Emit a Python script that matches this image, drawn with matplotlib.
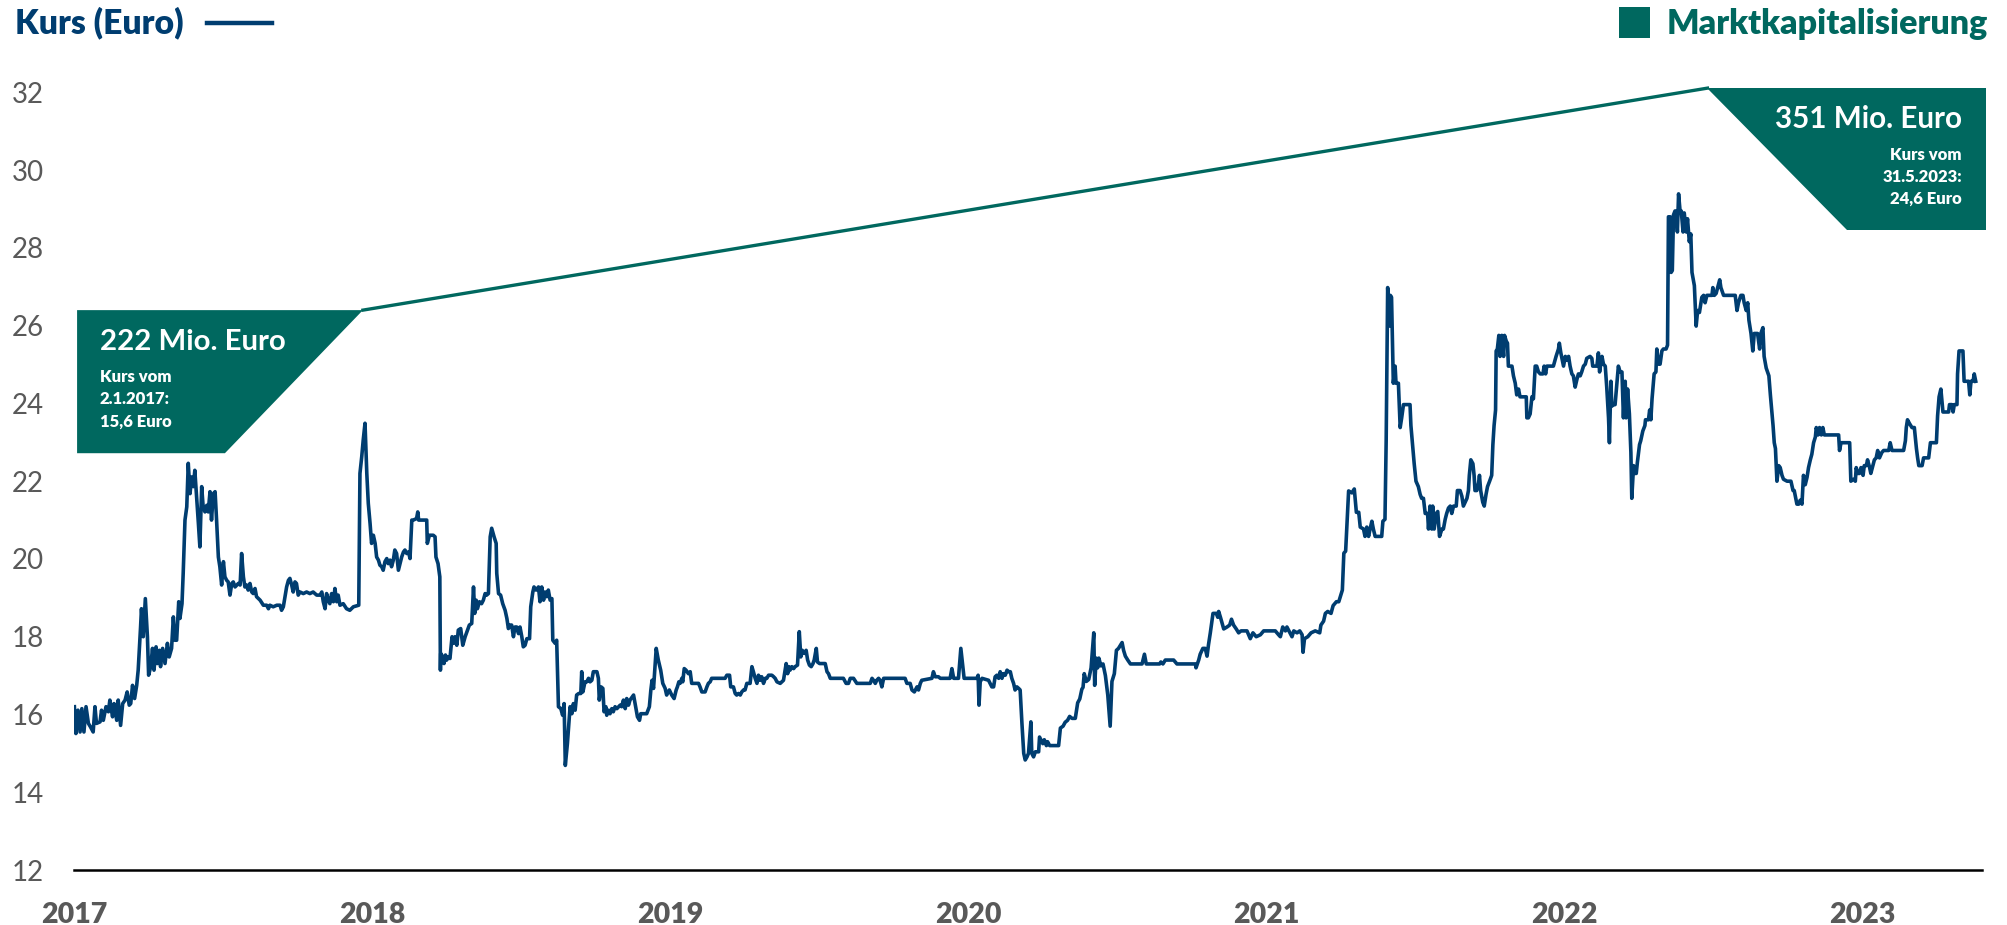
import matplotlib
matplotlib.use("Agg")
import matplotlib.pyplot as plt
from matplotlib.patches import Polygon, Rectangle
from matplotlib.lines import Line2D

# ---------------- data (decimal year, price in Euro) ----------------
kurs_2017 = [
    (2017.000, 16.20), (2017.005, 15.51), (2017.012, 16.11), (2017.019, 15.55), (2017.025, 16.15),
    (2017.032, 15.55), (2017.039, 16.20), (2017.047, 15.77), (2017.054, 15.68), (2017.063, 15.55),
    (2017.069, 16.20), (2017.074, 15.77), (2017.086, 15.81), (2017.091, 16.11), (2017.097, 15.85),
    (2017.106, 16.20), (2017.114, 16.07), (2017.119, 16.37), (2017.128, 15.94), (2017.133, 16.28),
    (2017.142, 15.85), (2017.147, 16.37), (2017.155, 15.72), (2017.162, 16.28), (2017.170, 16.37),
    (2017.177, 16.58), (2017.184, 16.24), (2017.189, 16.28), (2017.195, 16.75), (2017.202, 16.41),
    (2017.209, 16.75), (2017.214, 17.14), (2017.222, 18.25), (2017.225, 18.72), (2017.231, 18.00),
    (2017.238, 18.98), (2017.245, 18.00), (2017.249, 17.01), (2017.256, 17.23), (2017.262, 17.70),
    (2017.267, 17.14), (2017.274, 17.74), (2017.278, 17.31), (2017.285, 17.65), (2017.289, 17.23),
    (2017.296, 17.70), (2017.304, 17.31), (2017.312, 17.83), (2017.318, 17.48), (2017.326, 17.70),
    (2017.332, 18.51), (2017.337, 17.91), (2017.343, 17.91), (2017.350, 18.90), (2017.354, 18.47),
    (2017.361, 18.85), (2017.365, 19.63), (2017.371, 21.00), (2017.377, 21.34), (2017.382, 22.46),
    (2017.388, 21.68), (2017.393, 22.11), (2017.399, 21.86), (2017.404, 22.28), (2017.410, 21.60),
    (2017.416, 20.91), (2017.421, 20.31), (2017.427, 21.86), (2017.432, 21.34), (2017.438, 21.21),
    (2017.444, 21.38), (2017.449, 21.21), (2017.455, 21.73), (2017.460, 21.00), (2017.466, 21.68),
    (2017.472, 21.73), (2017.477, 21.00), (2017.483, 20.05), (2017.488, 19.80), (2017.494, 19.33),
    (2017.500, 19.93), (2017.505, 19.54), (2017.511, 19.45), (2017.516, 19.41), (2017.522, 19.07),
    (2017.528, 19.37), (2017.533, 19.41), (2017.539, 19.28), (2017.550, 19.37), (2017.556, 19.33),
    (2017.561, 20.14), (2017.567, 19.54), (2017.572, 19.28), (2017.578, 19.33), (2017.583, 19.20),
    (2017.589, 19.37), (2017.595, 19.15), (2017.600, 19.11), (2017.606, 19.24), (2017.611, 19.03),
    (2017.623, 18.94), (2017.634, 18.81), (2017.645, 18.81), (2017.651, 18.72), (2017.656, 18.81),
    (2017.667, 18.77), (2017.679, 18.81), (2017.690, 18.81), (2017.695, 18.68), (2017.701, 18.77),
    (2017.712, 19.28), (2017.718, 19.45), (2017.723, 19.50), (2017.729, 19.33), (2017.734, 19.15),
    (2017.740, 19.41), (2017.745, 19.37), (2017.751, 19.07), (2017.757, 19.15), (2017.768, 19.11),
    (2017.779, 19.15), (2017.790, 19.11), (2017.801, 19.15), (2017.813, 19.07), (2017.824, 19.07),
    (2017.830, 19.15), (2017.835, 18.90), (2017.841, 18.72), (2017.846, 19.11), (2017.852, 18.94),
    (2017.857, 18.85), (2017.863, 19.11), (2017.869, 18.90), (2017.874, 19.24), (2017.880, 18.90),
    (2017.885, 19.07), (2017.891, 18.81), (2017.902, 18.85), (2017.913, 18.72), (2017.924, 18.68),
    (2017.936, 18.77), (2017.954, 18.81), (2017.958, 22.20), (2017.964, 22.63), (2017.969, 23.06),
    (2017.975, 23.49), (2017.981, 22.20), (2017.986, 21.43), (2017.992, 20.91), (2017.997, 20.40),
]

kurs_2018 = [
    (2018.003, 20.61), (2018.009, 20.40), (2018.014, 20.05), (2018.020, 19.97), (2018.025, 19.84),
    (2018.031, 19.80), (2018.036, 19.71), (2018.042, 19.93), (2018.048, 20.01), (2018.053, 19.88),
    (2018.059, 19.97), (2018.064, 19.80), (2018.070, 19.97), (2018.075, 20.23), (2018.081, 20.14),
    (2018.087, 19.71), (2018.098, 20.05), (2018.104, 20.18), (2018.109, 20.23), (2018.115, 20.14),
    (2018.121, 20.18), (2018.126, 20.01), (2018.132, 21.00), (2018.137, 21.00), (2018.148, 21.04),
    (2018.152, 21.21), (2018.155, 21.00), (2018.171, 21.00), (2018.182, 21.00), (2018.184, 20.40),
    (2018.191, 20.61), (2018.204, 20.61), (2018.210, 20.57), (2018.213, 20.05), (2018.220, 19.88),
    (2018.226, 19.54), (2018.228, 17.14), (2018.229, 17.57), (2018.236, 17.48), (2018.240, 17.31),
    (2018.245, 17.53), (2018.249, 17.40), (2018.255, 17.48), (2018.260, 17.44), (2018.267, 18.00),
    (2018.272, 17.83), (2018.277, 18.00), (2018.283, 17.78), (2018.288, 18.17), (2018.296, 18.21),
    (2018.303, 17.78), (2018.311, 18.00), (2018.319, 18.17), (2018.325, 18.30), (2018.333, 18.34),
    (2018.339, 19.28), (2018.343, 18.60), (2018.348, 18.94), (2018.352, 18.72), (2018.359, 18.90),
    (2018.366, 18.85), (2018.372, 18.94), (2018.378, 19.11), (2018.383, 19.07), (2018.389, 19.11),
    (2018.395, 20.57), (2018.400, 20.79), (2018.408, 20.57), (2018.415, 20.40), (2018.417, 19.63),
    (2018.423, 19.11), (2018.430, 19.07), (2018.437, 18.85), (2018.445, 18.68), (2018.451, 18.47),
    (2018.456, 18.21), (2018.462, 18.30), (2018.467, 18.30), (2018.473, 18.00), (2018.478, 18.25),
    (2018.484, 18.25), (2018.490, 18.08), (2018.495, 18.25), (2018.501, 18.00), (2018.506, 17.74),
    (2018.512, 17.78), (2018.518, 17.95), (2018.527, 17.95), (2018.531, 18.77), (2018.538, 19.15),
    (2018.542, 19.28), (2018.549, 19.20), (2018.557, 19.28), (2018.562, 18.90), (2018.568, 19.28),
    (2018.574, 18.94), (2018.579, 19.15), (2018.585, 19.03), (2018.590, 19.20), (2018.596, 18.94),
    (2018.602, 18.98), (2018.605, 17.91), (2018.613, 17.83), (2018.618, 17.91), (2018.624, 16.20),
    (2018.632, 16.15), (2018.638, 15.98), (2018.643, 16.28), (2018.647, 14.69), (2018.654, 15.25),
    (2018.659, 15.77), (2018.663, 16.20), (2018.669, 16.02), (2018.674, 16.28), (2018.680, 16.11),
    (2018.685, 16.50), (2018.692, 16.54), (2018.699, 16.54), (2018.702, 17.10), (2018.706, 16.58),
    (2018.713, 16.84), (2018.719, 16.84), (2018.725, 16.93), (2018.730, 16.84), (2018.736, 16.88),
    (2018.741, 17.10), (2018.753, 17.10), (2018.758, 16.93), (2018.761, 16.37), (2018.767, 16.71),
    (2018.773, 16.67), (2018.777, 16.07), (2018.783, 16.20), (2018.786, 15.98), (2018.792, 16.11),
    (2018.797, 16.02), (2018.803, 16.15), (2018.808, 16.07), (2018.814, 16.20), (2018.820, 16.15),
    (2018.831, 16.24), (2018.836, 16.20), (2018.842, 16.37), (2018.848, 16.15), (2018.853, 16.41),
    (2018.859, 16.24), (2018.864, 16.37), (2018.876, 16.50), (2018.885, 16.11), (2018.889, 15.94),
    (2018.896, 15.85), (2018.900, 16.02), (2018.920, 16.02), (2018.929, 16.20), (2018.934, 16.63),
    (2018.938, 16.88), (2018.943, 16.67), (2018.952, 17.70), (2018.959, 17.40), (2018.967, 17.14),
    (2018.974, 16.80), (2018.982, 16.67), (2018.987, 16.50), (2018.996, 16.63),
]

kurs_2019 = [
    (2019.004, 16.50), (2019.012, 16.41), (2019.019, 16.63), (2019.023, 16.71), (2019.028, 16.84),
    (2019.032, 16.80), (2019.038, 16.93), (2019.041, 16.84), (2019.046, 17.18), (2019.052, 17.14),
    (2019.060, 17.05), (2019.066, 17.10), (2019.071, 16.80), (2019.083, 16.80), (2019.094, 16.80),
    (2019.099, 16.71), (2019.105, 16.58), (2019.116, 16.58), (2019.122, 16.71), (2019.127, 16.80),
    (2019.133, 16.84), (2019.138, 16.93), (2019.150, 16.93), (2019.166, 16.93), (2019.183, 16.93),
    (2019.189, 17.01), (2019.198, 17.01), (2019.202, 16.71), (2019.211, 16.71), (2019.217, 16.54),
    (2019.222, 16.50), (2019.228, 16.54), (2019.234, 16.50), (2019.239, 16.58), (2019.245, 16.63),
    (2019.250, 16.63), (2019.256, 16.80), (2019.267, 16.80), (2019.273, 17.23), (2019.278, 17.10),
    (2019.284, 16.93), (2019.290, 16.80), (2019.295, 17.01), (2019.301, 16.88), (2019.306, 16.97),
    (2019.312, 16.80), (2019.318, 16.93), (2019.323, 16.93), (2019.329, 17.01), (2019.340, 17.01),
    (2019.346, 16.97), (2019.351, 16.93), (2019.357, 16.84), (2019.368, 16.80), (2019.379, 16.88),
    (2019.388, 17.31), (2019.393, 17.05), (2019.397, 17.23), (2019.401, 17.14), (2019.407, 17.23),
    (2019.413, 17.18), (2019.418, 17.23), (2019.426, 17.27), (2019.432, 18.13), (2019.437, 17.48),
    (2019.442, 17.65), (2019.448, 17.57), (2019.455, 17.65), (2019.460, 17.40), (2019.466, 17.27),
    (2019.472, 17.23), (2019.478, 17.31), (2019.482, 17.40), (2019.489, 17.70), (2019.493, 17.35),
    (2019.500, 17.31), (2019.519, 17.31), (2019.525, 17.10), (2019.530, 17.05), (2019.536, 16.93),
    (2019.580, 16.93), (2019.589, 16.80), (2019.597, 16.80), (2019.603, 16.93), (2019.614, 16.93),
    (2019.625, 16.80), (2019.670, 16.80), (2019.676, 16.93), (2019.681, 16.88), (2019.687, 16.80),
    (2019.692, 16.88), (2019.698, 16.93), (2019.703, 16.88), (2019.709, 16.71), (2019.715, 16.93),
    (2019.787, 16.93), (2019.793, 16.80), (2019.804, 16.80), (2019.810, 16.63), (2019.818, 16.58),
    (2019.827, 16.71), (2019.832, 16.63), (2019.838, 16.80), (2019.843, 16.88), (2019.877, 16.93),
    (2019.882, 17.10), (2019.888, 16.97), (2019.899, 16.97), (2019.905, 16.93), (2019.938, 16.93),
    (2019.944, 17.18), (2019.950, 16.93), (2019.966, 16.93), (2019.974, 17.70), (2019.980, 17.27),
    (2019.985, 16.93),
]

kurs_2020 = [
    (2020.028, 16.93), (2020.032, 17.01), (2020.035, 16.24), (2020.039, 16.84), (2020.045, 16.93),
    (2020.067, 16.88), (2020.078, 16.71), (2020.084, 16.71), (2020.089, 16.97), (2020.095, 17.01),
    (2020.101, 16.93), (2020.106, 17.10), (2020.112, 16.93), (2020.117, 17.05), (2020.123, 17.01),
    (2020.129, 17.14), (2020.134, 17.10), (2020.140, 17.10), (2020.145, 16.93), (2020.151, 16.80),
    (2020.156, 16.63), (2020.162, 16.71), (2020.168, 16.67), (2020.173, 16.63), (2020.179, 15.77),
    (2020.185, 15.00), (2020.190, 14.83), (2020.196, 14.91), (2020.201, 15.00), (2020.209, 15.81),
    (2020.212, 15.00), (2020.218, 14.91), (2020.224, 15.04), (2020.235, 15.04), (2020.238, 15.42),
    (2020.249, 15.25), (2020.254, 15.35), (2020.261, 15.20), (2020.265, 15.30), (2020.272, 15.20),
    (2020.302, 15.20), (2020.308, 15.65), (2020.317, 15.70), (2020.324, 15.80), (2020.332, 15.85),
    (2020.339, 15.95), (2020.347, 15.90), (2020.358, 15.90), (2020.366, 16.30), (2020.373, 16.40),
    (2020.380, 16.65), (2020.384, 16.70), (2020.388, 17.05), (2020.395, 16.85), (2020.403, 16.90),
    (2020.411, 17.20), (2020.420, 18.10), (2020.423, 16.75), (2020.428, 17.45), (2020.433, 17.20),
    (2020.437, 17.45), (2020.444, 17.25), (2020.451, 17.30), (2020.459, 17.00), (2020.467, 16.50),
    (2020.475, 15.70), (2020.481, 16.85), (2020.489, 17.05), (2020.496, 17.65), (2020.503, 17.70),
    (2020.515, 17.85), (2020.520, 17.65), (2020.526, 17.50), (2020.534, 17.40), (2020.543, 17.30),
    (2020.582, 17.30), (2020.590, 17.55), (2020.596, 17.30), (2020.641, 17.30), (2020.645, 17.35),
    (2020.652, 17.30), (2020.660, 17.40), (2020.688, 17.40), (2020.699, 17.30), (2020.761, 17.30),
    (2020.763, 17.20), (2020.772, 17.40), (2020.777, 17.55), (2020.786, 17.70), (2020.794, 17.70),
    (2020.800, 17.50), (2020.805, 17.80), (2020.811, 18.10), (2020.820, 18.60), (2020.831, 18.60),
    (2020.836, 18.50), (2020.839, 18.65), (2020.845, 18.50), (2020.856, 18.20), (2020.867, 18.25),
    (2020.876, 18.30), (2020.882, 18.45), (2020.889, 18.30), (2020.898, 18.20), (2020.906, 18.10),
    (2020.914, 18.15), (2020.934, 18.15), (2020.945, 17.95), (2020.954, 18.10), (2020.965, 18.00),
    (2020.979, 18.05), (2020.990, 18.15),
]

kurs_2021 = [
    (2021.029, 18.15), (2021.040, 18.05), (2021.046, 18.00), (2021.054, 18.25), (2021.063, 18.15),
    (2021.068, 18.25), (2021.085, 18.00), (2021.091, 18.15), (2021.102, 18.10), (2021.111, 18.15),
    (2021.119, 18.05), (2021.122, 17.60), (2021.127, 17.95), (2021.138, 18.00), (2021.149, 18.10),
    (2021.163, 18.15), (2021.178, 18.10), (2021.182, 18.30), (2021.191, 18.40), (2021.197, 18.60),
    (2021.205, 18.65), (2021.216, 18.60), (2021.223, 18.80), (2021.234, 18.90), (2021.242, 18.90),
    (2021.250, 19.10), (2021.254, 19.20), (2021.259, 20.15), (2021.265, 20.20), (2021.275, 21.75),
    (2021.286, 21.70), (2021.294, 21.80), (2021.301, 21.20), (2021.309, 21.20), (2021.314, 20.82),
    (2021.325, 20.77), (2021.330, 20.58), (2021.336, 20.82), (2021.342, 20.58), (2021.347, 20.77),
    (2021.353, 20.97), (2021.358, 20.77), (2021.364, 20.58), (2021.386, 20.58), (2021.390, 20.97),
    (2021.397, 21.02), (2021.401, 23.04), (2021.406, 26.98), (2021.412, 25.99), (2021.415, 26.78),
    (2021.419, 26.73), (2021.425, 24.52), (2021.431, 24.96), (2021.434, 24.52), (2021.442, 24.52),
    (2021.448, 23.38), (2021.453, 23.63), (2021.459, 23.97), (2021.470, 23.97), (2021.481, 23.97),
    (2021.484, 23.43), (2021.489, 22.99), (2021.495, 22.45), (2021.501, 22.00), (2021.509, 21.86),
    (2021.515, 21.66), (2021.520, 21.56), (2021.526, 21.56), (2021.532, 21.17), (2021.540, 21.17),
    (2021.543, 20.77), (2021.548, 21.36), (2021.554, 20.77), (2021.557, 21.36), (2021.562, 20.77),
    (2021.569, 21.17), (2021.574, 21.22), (2021.580, 20.58), (2021.588, 20.77), (2021.593, 20.77),
    (2021.599, 21.02), (2021.604, 21.17), (2021.610, 21.31), (2021.616, 21.36), (2021.621, 21.17),
    (2021.627, 21.36), (2021.636, 21.36), (2021.640, 21.76), (2021.649, 21.76), (2021.655, 21.61),
    (2021.660, 21.36), (2021.666, 21.46), (2021.672, 21.56), (2021.677, 21.76), (2021.680, 22.15),
    (2021.685, 22.55), (2021.692, 22.45), (2021.696, 22.15), (2021.699, 21.76), (2021.705, 21.76),
    (2021.711, 21.96), (2021.714, 22.15), (2021.718, 21.76), (2021.725, 21.46), (2021.730, 21.36),
    (2021.736, 21.66), (2021.741, 21.86), (2021.748, 22.00), (2021.755, 22.15), (2021.759, 22.94),
    (2021.763, 23.43), (2021.768, 23.83), (2021.770, 25.35), (2021.774, 25.40), (2021.779, 25.75),
    (2021.783, 25.21), (2021.789, 25.75), (2021.795, 25.21), (2021.798, 25.75), (2021.804, 25.60),
    (2021.808, 25.55), (2021.811, 24.96), (2021.823, 24.96), (2021.828, 24.71), (2021.834, 24.52),
    (2021.839, 24.22), (2021.845, 24.37), (2021.850, 24.17), (2021.871, 24.17), (2021.873, 23.63),
    (2021.878, 23.63), (2021.884, 23.73), (2021.890, 24.17), (2021.895, 24.12), (2021.901, 24.96),
    (2021.906, 24.96), (2021.912, 24.81), (2021.918, 24.76), (2021.927, 24.76), (2021.931, 24.96),
    (2021.936, 24.76), (2021.940, 24.96), (2021.962, 24.96), (2021.971, 25.21), (2021.979, 25.40),
    (2021.982, 25.55), (2021.987, 25.30), (2021.996, 24.96),
]

kurs_2022 = [
    (2022.002, 25.21), (2022.007, 25.11), (2022.013, 25.21), (2022.018, 24.96), (2022.024, 24.76),
    (2022.029, 24.71), (2022.035, 24.42), (2022.041, 24.62), (2022.046, 24.76), (2022.052, 24.71),
    (2022.057, 24.81), (2022.063, 24.96), (2022.069, 25.01), (2022.074, 25.16), (2022.085, 25.21),
    (2022.091, 25.16), (2022.094, 24.96), (2022.108, 24.96), (2022.113, 25.30), (2022.117, 24.81),
    (2022.121, 25.01), (2022.125, 25.21), (2022.130, 25.01), (2022.136, 24.96), (2022.141, 24.42),
    (2022.147, 23.63), (2022.150, 22.99), (2022.155, 24.57), (2022.158, 23.93), (2022.164, 23.97),
    (2022.169, 23.97), (2022.175, 24.52), (2022.180, 24.96), (2022.186, 24.81), (2022.192, 24.81),
    (2022.197, 23.63), (2022.200, 24.22), (2022.203, 24.57), (2022.206, 23.63), (2022.211, 24.37),
    (2022.217, 23.73), (2022.222, 22.74), (2022.225, 21.56), (2022.231, 22.40), (2022.236, 22.20),
    (2022.240, 22.20), (2022.244, 22.50), (2022.251, 22.94), (2022.255, 23.04), (2022.262, 23.29),
    (2022.269, 23.43), (2022.271, 23.58), (2022.281, 23.58), (2022.285, 23.83), (2022.289, 23.58),
    (2022.293, 24.12), (2022.300, 24.76), (2022.306, 24.81), (2022.309, 25.40), (2022.315, 25.01),
    (2022.320, 25.01), (2022.326, 25.35), (2022.331, 25.40), (2022.340, 25.40), (2022.345, 25.50),
    (2022.348, 28.80), (2022.354, 28.80), (2022.357, 27.37), (2022.361, 27.42), (2022.365, 28.85),
    (2022.370, 28.95), (2022.374, 28.95), (2022.378, 28.41), (2022.382, 29.39), (2022.387, 28.95),
    (2022.391, 28.95), (2022.397, 28.41), (2022.401, 28.90), (2022.408, 28.41), (2022.412, 28.75),
    (2022.418, 28.16), (2022.423, 28.36), (2022.427, 27.37), (2022.435, 27.03), (2022.441, 25.99),
    (2022.446, 26.39), (2022.452, 26.34), (2022.460, 26.73), (2022.466, 26.78), (2022.471, 26.59),
    (2022.477, 26.78), (2022.494, 26.78), (2022.497, 26.98), (2022.502, 26.78), (2022.508, 26.83),
    (2022.513, 26.98), (2022.520, 27.18), (2022.524, 26.98), (2022.533, 26.78), (2022.572, 26.78),
    (2022.578, 26.39), (2022.583, 26.59), (2022.591, 26.78), (2022.598, 26.78), (2022.602, 26.59),
    (2022.609, 26.39), (2022.614, 26.59), (2022.618, 26.14), (2022.625, 25.80), (2022.631, 25.35),
    (2022.636, 25.80), (2022.647, 25.80), (2022.654, 25.40), (2022.658, 25.80), (2022.665, 25.95),
    (2022.669, 25.21), (2022.676, 24.91), (2022.685, 24.71), (2022.690, 24.22), (2022.699, 23.43),
    (2022.703, 22.99), (2022.707, 22.84), (2022.712, 22.00), (2022.718, 22.40), (2022.723, 22.35),
    (2022.729, 22.15), (2022.734, 22.05), (2022.746, 22.00), (2022.759, 22.00), (2022.766, 21.76),
    (2022.770, 21.76), (2022.775, 21.56), (2022.779, 21.41), (2022.785, 21.41), (2022.790, 21.51),
    (2022.796, 21.41), (2022.801, 22.15), (2022.807, 21.91), (2022.813, 22.10), (2022.818, 22.35),
    (2022.824, 22.55), (2022.829, 22.69), (2022.835, 22.99), (2022.841, 23.14), (2022.844, 23.38),
    (2022.850, 23.19), (2022.855, 23.38), (2022.861, 23.19), (2022.866, 23.38), (2022.871, 23.19),
    (2022.880, 23.19), (2022.919, 23.19), (2022.922, 22.79), (2022.927, 22.99), (2022.936, 22.99),
    (2022.956, 22.99), (2022.960, 22.00), (2022.969, 22.05), (2022.975, 22.00), (2022.978, 22.35),
    (2022.983, 22.20), (2022.989, 22.20), (2022.994, 22.35),
]

kurs_2023 = [
    (2023.001, 22.15), (2023.005, 22.40), (2023.012, 22.40), (2023.016, 22.55), (2023.023, 22.35),
    (2023.027, 22.20), (2023.034, 22.40), (2023.039, 22.55), (2023.045, 22.60), (2023.050, 22.79),
    (2023.056, 22.60), (2023.064, 22.74), (2023.070, 22.79), (2023.087, 22.79), (2023.092, 22.99),
    (2023.098, 22.79), (2023.126, 22.79), (2023.137, 22.79), (2023.143, 23.04), (2023.146, 23.38),
    (2023.150, 23.58), (2023.157, 23.48), (2023.165, 23.38), (2023.173, 23.38), (2023.180, 22.84),
    (2023.184, 22.60), (2023.188, 22.40), (2023.199, 22.40), (2023.204, 22.60), (2023.221, 22.60),
    (2023.227, 22.99), (2023.232, 22.99), (2023.247, 22.99), (2023.251, 23.68), (2023.256, 24.17),
    (2023.262, 24.37), (2023.269, 23.78), (2023.277, 23.78), (2023.288, 23.78), (2023.291, 23.97),
    (2023.299, 23.97), (2023.303, 23.78), (2023.307, 23.97), (2023.316, 23.97), (2023.318, 24.76),
    (2023.323, 25.35), (2023.330, 25.35), (2023.336, 25.35), (2023.340, 24.57), (2023.347, 24.57),
    (2023.355, 24.57), (2023.359, 24.22), (2023.363, 24.57), (2023.370, 24.57), (2023.374, 24.76),
    (2023.379, 24.57),
]

jahre = [2017, 2018, 2019, 2020, 2021, 2022, 2023]
jahr_labels = ["2017", "2018", "2019", "2020", "2021", "2022", "2023"]
y_ticks = [12, 14, 16, 18, 20, 22, 24, 26, 28, 30, 32]

titel_links = "Kurs (Euro)"
titel_rechts = "Marktkapitalisierung"
mkap_start = "222 Mio. Euro"
mkap_ende = "351 Mio. Euro"
kurs_start_text = ["Kurs vom", "2.1.2017:", "15,6 Euro"]
kurs_ende_text = ["Kurs vom", "31.5.2023:", "24,6 Euro"]

# ---------------- styling ----------------
BLUE = "#003D70"
TEAL = "#00685F"
GRAY = "#595959"
FONT = "Lato"

W, H = 2007, 925
fig = plt.figure(figsize=(W / 100, H / 100), dpi=100)
fig.patch.set_facecolor("white")


def fx(px):
    return px / W


def fy(py):
    return 1 - py / H


ax = fig.add_axes([fx(74.4), fy(870), (1982 - 74.4) / W, (870 - 92.4) / H])

serie = kurs_2017 + kurs_2018 + kurs_2019 + kurs_2020 + kurs_2021 + kurs_2022 + kurs_2023
xs = [p[0] for p in serie]
ys = [p[1] for p in serie]
ax.plot(xs, ys, color=BLUE, lw=2.6, solid_joinstyle="round", zorder=3)

ax.set_xlim(2017, 2023.40)
ax.set_ylim(12, 32)
for s in ["top", "right", "left"]:
    ax.spines[s].set_visible(False)
ax.spines["bottom"].set_color("black")
ax.spines["bottom"].set_linewidth(1.8)

ax.set_xticks(jahre)
ax.set_xticklabels(jahr_labels, fontfamily=FONT, fontweight="heavy", fontsize=20.5, color=GRAY)
ax.set_yticks(y_ticks)
ax.set_yticklabels([str(v) for v in y_ticks], fontfamily=FONT, fontsize=20, color=GRAY)
ax.tick_params(axis="x", length=0, pad=23)
ax.tick_params(axis="y", length=0, pad=22)

# market-cap connection line and boxes (in data coordinates)
ax.plot([2017.968, 2022.479], [26.40, 32.11], color=TEAL, lw=2.4, clip_on=False, zorder=2)
box_l = Polygon([(2017.009, 26.40), (2017.968, 26.40), (2017.505, 22.72), (2017.009, 22.72)],
                closed=True, facecolor=TEAL, edgecolor="none", clip_on=False, zorder=4)
box_r = Polygon([(2022.479, 32.11), (2023.412, 32.11), (2023.412, 28.46), (2022.948, 28.46)],
                closed=True, facecolor=TEAL, edgecolor="none", clip_on=False, zorder=4)
ax.add_patch(box_l)
ax.add_patch(box_r)

texts_fit = []

# header texts
t1 = fig.text(fx(15), fy(33), titel_links, fontfamily=FONT, fontweight="heavy", fontsize=23,
              color=BLUE, va="baseline", ha="left")
texts_fit.append((t1, 168))
fig.add_artist(Line2D([fx(207), fx(272)], [fy(23), fy(23)], color=BLUE, lw=3.2,
                      transform=fig.transFigure))
fig.add_artist(Rectangle((fx(1619), fy(38)), 31 / W, 31 / H, facecolor=TEAL, edgecolor="none",
                         transform=fig.transFigure))
t2 = fig.text(fx(1988), fy(34), titel_rechts, fontfamily=FONT, fontweight="heavy", fontsize=23,
              color=TEAL, va="baseline", ha="right")
texts_fit.append((t2, 322))

# box texts
t3 = fig.text(fx(100), fy(350), mkap_start, fontfamily=FONT, fontweight="bold", fontsize=21,
              color="white", va="baseline", ha="left", zorder=10)
texts_fit.append((t3, 186))
small = []
for line, base in zip(kurs_start_text, [382, 404, 427]):
    t = fig.text(fx(100), fy(base), line, fontfamily=FONT, fontweight="heavy", fontsize=11.5,
                 color="white", va="baseline", ha="left", zorder=10)
    small.append(t)
t4 = fig.text(fx(1962), fy(128), mkap_ende, fontfamily=FONT, fontweight="bold", fontsize=21,
              color="white", va="baseline", ha="right", zorder=10)
texts_fit.append((t4, 187))
for line, base in zip(kurs_ende_text, [160, 182, 204]):
    t = fig.text(fx(1962), fy(base), line, fontfamily=FONT, fontweight="heavy", fontsize=11.5,
                 color="white", va="baseline", ha="right", zorder=10)
    small.append(t)

# fit main text widths to the reference layout
renderer = fig.canvas.get_renderer()
for t, target in texts_fit:
    w = t.get_window_extent(renderer).width
    t.set_fontsize(t.get_fontsize() * target / w)
# small box lines share one size, fitted on "Kurs vom" (72 px wide)
w0 = small[0].get_window_extent(renderer).width
fs_small = small[0].get_fontsize() * 72 / w0
for t in small:
    t.set_fontsize(fs_small)

fig.savefig("out.png", dpi=100, facecolor="white")
